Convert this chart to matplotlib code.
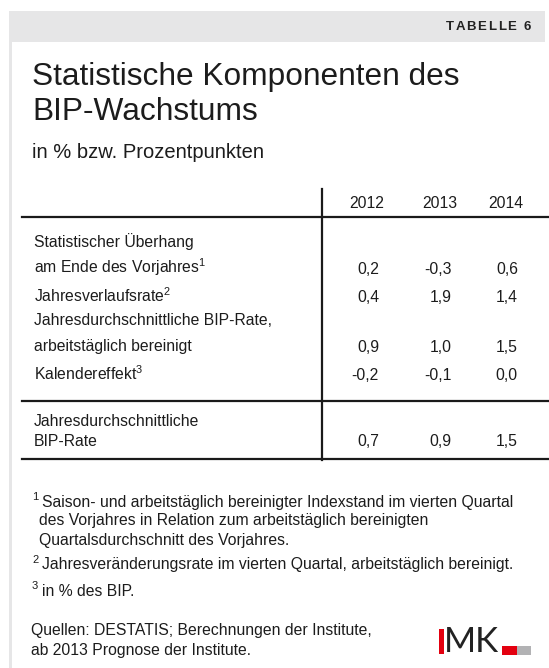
import matplotlib.pyplot as plt
from matplotlib.patches import Rectangle

plt.rcParams['font.family'] = ['Liberation Sans', 'DejaVu Sans']
plt.rcParams['mathtext.fontset'] = 'custom'
plt.rcParams['mathtext.rm'] = 'Liberation Sans'
plt.rcParams['mathtext.default'] = 'regular'

# Daten der Tabelle
jahre = ["2012", "2013", "2014"]
zeilen = [
    ["Statistischer Überhang", "am Ende des Vorjahres$^1$"],
    ["Jahresverlaufsrate$^2$"],
    ["Jahresdurchschnittliche BIP-Rate,", "arbeitstäglich bereinigt"],
    ["Kalendereffekt$^3$"],
]
werte_2012 = [0.2, 0.4, 0.9, -0.2]
werte_2013 = [-0.3, 1.9, 1.0, -0.1]
werte_2014 = [0.6, 1.4, 1.5, 0.0]
summe_zeile = ["Jahresdurchschnittliche", "BIP-Rate"]
summe_werte = [0.7, 0.9, 1.5]

fussnoten = [
    ("1", ["Saison- und arbeitstäglich bereinigter Indexstand im vierten Quartal",
           "des Vorjahres in Relation zum arbeitstäglich bereinigten",
           "Quartalsdurchschnitt des Vorjahres."]),
    ("2", ["Jahresveränderungsrate im vierten Quartal, arbeitstäglich bereinigt."]),
    ("3", ["in % des BIP."]),
]
quellen = ["Quellen: DESTATIS; Berechnungen der Institute,",
           "ab 2013 Prognose der Institute."]

textfarbe = "#1c1c1c"
grau = "#e6e6e7"
fs = 11.3


def fmt(v):
    return f"{v:.1f}".replace(".", ",")


fig = plt.figure(figsize=(5.49, 6.68), dpi=100)
ax = fig.add_axes([0, 0, 1, 1])
ax.set_xlim(0, 549)
ax.set_ylim(668, 0)
ax.axis("off")

# grauer Rahmen oben und links
ax.add_patch(Rectangle((9, 11), 536, 31, color=grau, lw=0))
ax.add_patch(Rectangle((9, 42), 3, 626, color=grau, lw=0))

# "TABELLE 6" mit Sperrung, von rechts nach links
renderer = fig.canvas.get_renderer()
x = 531
for ch in reversed("TABELLE 6"):
    t = ax.text(x, 27, ch, ha="right", va="center", fontsize=9.5,
                fontweight="bold", color="#222222")
    w = t.get_window_extent(renderer).width
    if ch == " ":
        w = 4
    x -= w + 1.6

# Titel
ax.text(32, 77, "Statistische Komponenten des", fontsize=22.8, color=textfarbe,
        va="center")
ax.text(32, 112, "BIP-Wachstums", fontsize=22.8, color=textfarbe, va="center")
ax.text(32, 152, "in % bzw. Prozentpunkten", fontsize=14.5, color=textfarbe,
        va="center")

# Linien der Tabelle
ax.plot([322, 322], [189, 460], color="#1a1a1a", lw=1.6)
ax.plot([22, 549], [217, 217], color="#1a1a1a", lw=1.6)
ax.plot([22, 549], [401, 401], color="#1a1a1a", lw=1.6)
ax.plot([22, 549], [459, 459], color="#1a1a1a", lw=1.6)

spalten_x = [379, 452, 518]
for sx, j in zip(spalten_x, jahre):
    ax.text(sx + 5, 203, j, ha="right", va="center", fontsize=fs,
            color=textfarbe)

zeilen_y = [269, 298, 347, 376]
werte = [werte_2012, werte_2013, werte_2014]
for i, (label, y) in enumerate(zip(zeilen, zeilen_y)):
    for k, line in enumerate(reversed(label)):
        ax.text(34, y - 26 * k + 4, line, va="baseline", fontsize=fs,
                color=textfarbe)
    for sx, w in zip(spalten_x, werte):
        ax.text(sx, y, fmt(w[i]), ha="right", va="center", fontsize=fs,
                color=textfarbe)

ax.text(34, 421, summe_zeile[0], va="center", fontsize=fs, color=textfarbe)
ax.text(34, 442, summe_zeile[1], va="center", fontsize=fs, color=textfarbe)
for sx, w in zip(spalten_x, summe_werte):
    ax.text(sx, 442, fmt(w), ha="right", va="center", fontsize=fs,
            color=textfarbe)

# Fussnoten
fn_y = [[502, 521, 540], [565], [591]]
for (nr, lines), ys in zip(fussnoten, fn_y):
    ax.text(32, ys[0] - 5, nr, fontsize=8, color=textfarbe, va="center")
    for k, (line, y) in enumerate(zip(lines, ys)):
        ax.text(42 if k == 0 else 39, y, line, fontsize=fs, color=textfarbe,
                va="center")

ax.text(31, 631, quellen[0], fontsize=fs, color=textfarbe, va="center")
ax.text(31, 651, quellen[1], fontsize=fs, color=textfarbe, va="center")

# Logo IMK
ax.add_patch(Rectangle((439, 629), 5, 25, color="#e3000f", lw=0))
ax.text(444, 642, "MK", fontsize=25, color="#222222", va="center",
        ha="left", family=["Lato", "Liberation Sans"])
ax.add_patch(Rectangle((502, 646), 15, 9, color="#e3000f", lw=0))
ax.add_patch(Rectangle((517, 646), 14, 9, color="#b2b2b4", lw=0))

fig.savefig("out.png", dpi=100)
